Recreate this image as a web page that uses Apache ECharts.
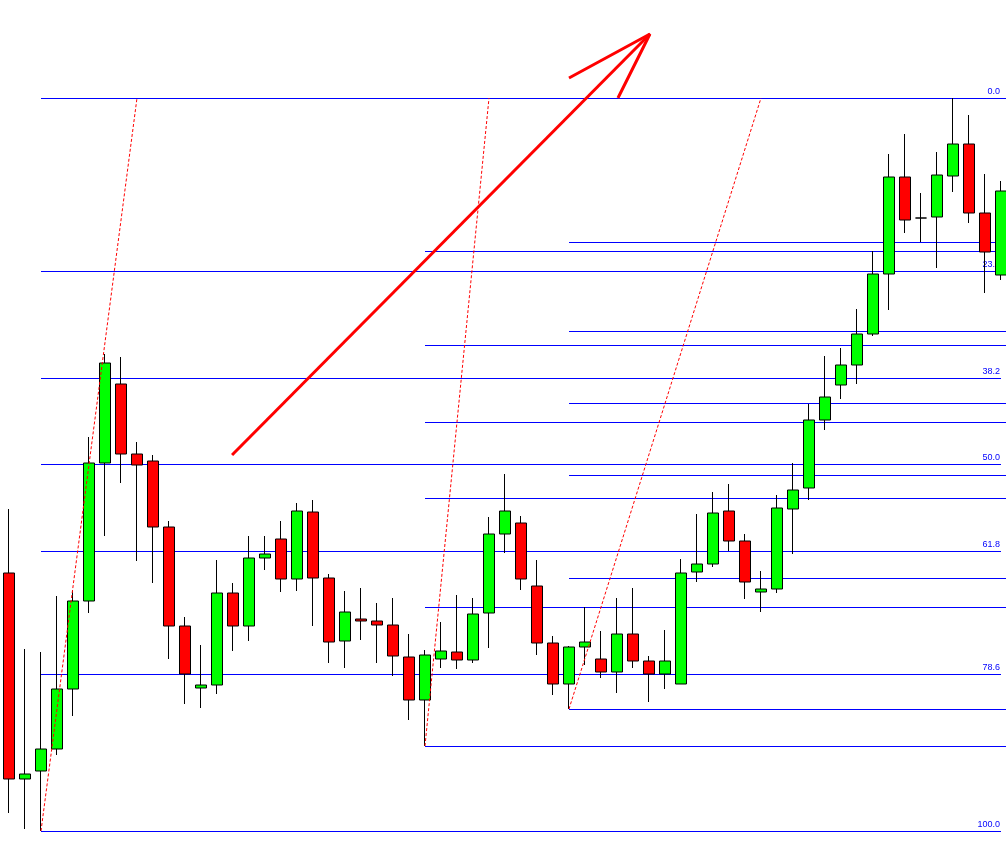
<!DOCTYPE html>
<html><head><meta charset="utf-8">
<script src="https://cdn.jsdelivr.net/npm/echarts@6/dist/echarts.min.js"></script>
<style>html,body{margin:0;padding:0;background:#fff;overflow:hidden}#c{width:1010px;height:851px}</style>
</head><body><div id="c"></div>
<script>
// OHLC values (abstract price units)
const opens  = [278,72,80,102,162,250,388,467,397,390,324,225,163,166,258,225,293,312,272,339,273,210,232,230,226,194,151,192,199,191,238,317,328,265,208,167,204,192,179,217,190,177,167,279,287,340,310,259,262,342,363,431,466,486,517,577,674,633,634,675,707,638,576];
const closes = [72,77,102,162,250,388,488,397,386,324,225,177,166,258,225,293,297,272,340,273,209,239,230,226,195,151,196,200,191,237,317,340,272,208,167,204,209,179,217,190,177,190,278,287,338,310,269,262,343,361,431,454,486,517,577,674,631,633,676,707,638,599,660];
const highs  = [342,202,199,255,261,414,497,494,409,396,330,234,206,291,268,315,315,330,348,351,277,260,263,248,253,217,201,229,256,253,334,377,335,291,215,205,244,220,253,263,195,221,292,337,359,367,317,280,356,388,447,495,503,542,600,697,717,658,699,753,736,677,670];
const lows   = [38,22,20,96,135,238,315,368,290,268,192,147,143,157,200,210,281,259,260,225,188,183,211,188,175,131,105,183,182,188,203,298,261,196,156,142,186,173,158,183,149,162,167,269,284,300,252,239,258,297,351,421,452,467,515,541,618,609,583,659,628,558,571];
const categories = opens.map((_, i) => 'Bar ' + (i + 1));

// Fibonacci retracement settings
const fibLevels = [0, 23.6, 38.2, 50, 61.8, 78.6, 100];
const fibLabels = ['0.0', '23.6', '38.2', '50.0', '61.8', '78.6', '100.0'];
const fibLowIdx = [2, 26, 35];     // bars holding the swing lows
const fibAnchorIdx = [8, 30, 47];  // bars where the dotted trend line reaches the high
const fibShowLabels = [true, false, false];

// Red arrow drawn on the chart (bar index, price)
const arrowShaft = [[13.94, 396], [40.06, 817]];
const arrowHead = [[35.0, 773], [40.06, 817], [38.06, 753]];

const lastIdx = opens.length - 1;
const swingHigh = Math.max(...highs);

const fibLines = [];
const dottedSeries = [];
fibLowIdx.forEach((li, s) => {
  const low = lows[li];
  const endX = s === 0 ? lastIdx : lastIdx + 0.5;
  fibLevels.forEach((p, k) => {
    const v = swingHigh - (swingHigh - low) * p / 100;
    fibLines.push([
      { coord: [li, v], label: fibShowLabels[s] ? { show: true, formatter: fibLabels[k] } : { show: false } },
      { coord: [endX, v] }
    ]);
  });
  dottedSeries.push({
    type: 'line', xAxisIndex: 1, yAxisIndex: 0, z: 4, silent: true,
    symbol: 'none', showSymbol: false,
    lineStyle: { color: '#FF0000', width: 1, type: [3, 2] },
    data: [[li, low], [fibAnchorIdx[s], swingHigh]]
  });
});

const chart = echarts.init(document.getElementById('c'), null, { renderer: 'canvas' });
chart.setOption({
  animation: false,
  backgroundColor: '#ffffff',
  grid: { left: 1, top: 0, width: 1008, height: 851, containLabel: false },
  xAxis: [
    { type: 'category', data: categories, boundaryGap: true, show: false },
    { type: 'value', min: -0.5, max: lastIdx + 0.5, show: false, splitLine: { show: false } }
  ],
  yAxis: [{ type: 'value', min: 0, max: 851, show: false, splitLine: { show: false } }],
  series: [
    {
      type: 'line', xAxisIndex: 1, yAxisIndex: 0, data: [], z: 1, silent: true,
      markLine: {
        z: 1, silent: true, animation: false, symbol: ['none', 'none'],
        lineStyle: { color: '#0000FF', width: 1, type: 'solid' },
        label: { position: 'insideEndTop', distance: [1, 2], color: '#0000FF', fontSize: 9, fontFamily: 'Liberation Sans' },
        emphasis: { disabled: true },
        data: fibLines
      }
    },
    {
      type: 'candlestick', xAxisIndex: 0, yAxisIndex: 0, z: 3, silent: true,
      barWidth: 11,
      data: opens.map((o, i) => [o, closes[i], lows[i], highs[i]]),
      itemStyle: {
        color: '#00FF00', color0: '#FF0000',
        borderColor: '#000000', borderColor0: '#000000', borderColorDoji: '#000000',
        borderWidth: 1
      }
    },
    ...dottedSeries,
    {
      type: 'line', xAxisIndex: 1, yAxisIndex: 0, z: 5, silent: true, symbol: 'none',
      lineStyle: { color: '#FF0000', width: 3 }, data: arrowShaft
    },
    {
      type: 'line', xAxisIndex: 1, yAxisIndex: 0, z: 5, silent: true, symbol: 'none',
      lineStyle: { color: '#FF0000', width: 3 }, data: arrowHead
    }
  ]
});
</script>
</body></html>
